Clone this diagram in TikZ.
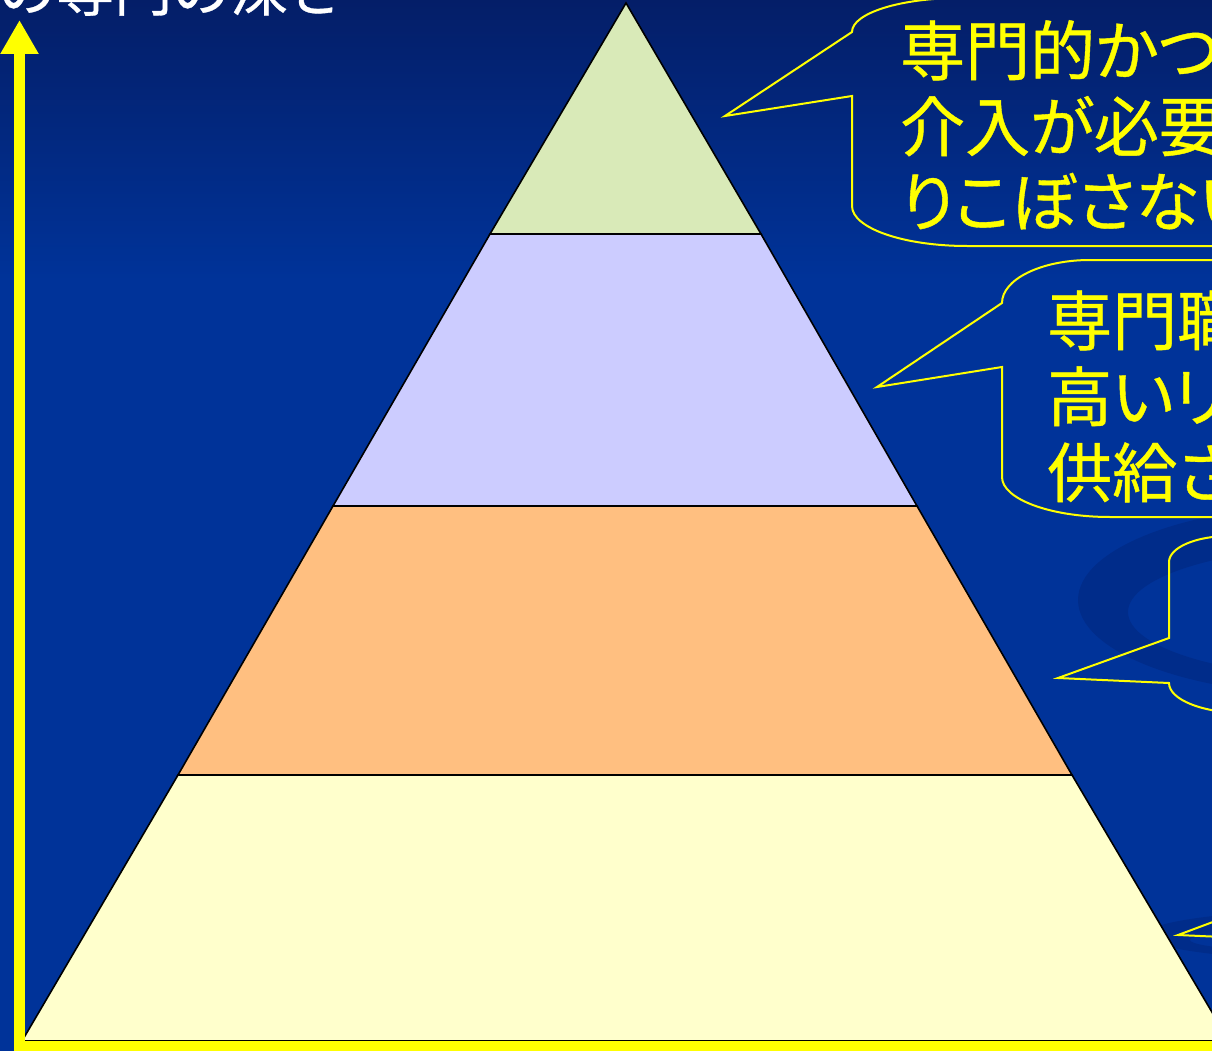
\documentclass[tikz,border=0pt]{standalone}
\usepackage{fontspec}
\newfontfamily\jp[RawFeature=+palt,FakeBold=0.6]{Noto Sans CJK JP}
\newfontfamily\jpt[FakeBold=0.6]{Noto Sans CJK JP}
\usetikzlibrary{arrows.meta}
\definecolor{bgblue}{RGB}{0,51,153}
\definecolor{bgtop}{RGB}{4,30,104}
\definecolor{bgdark}{RGB}{0,44,138}
\definecolor{lvA}{RGB}{217,234,184}
\definecolor{lvB}{RGB}{204,204,255}
\definecolor{lvC}{RGB}{255,191,128}
\definecolor{lvD}{RGB}{255,255,204}
\definecolor{callyel}{RGB}{255,255,0}
\begin{document}
\begin{tikzpicture}[x=1pt,y=-1pt,
  level/.style={draw=black,line width=1.6pt,line join=miter},
  callout/.style={draw=callyel,line width=2pt,line join=miter},
  ctext/.style={anchor=base west,inner sep=0pt,text=callyel,font=\jp\fontsize{65}{75}\selectfont},
  axisline/.style={draw=callyel,line width=11pt}]
\useasboundingbox (0,0) rectangle (1212,1051);
\clip (0,0) rectangle (1212,1051);
% background
\fill[bgblue] (0,0) rectangle (1212,1051);
\shade[top color=bgtop,bottom color=bgblue] (0,0) rectangle (1212,280);
% faint template swirls
\fill[bgdark,even odd rule] (1330,600) ellipse[x radius=252,y radius=95]
  (1352,612) ellipse[x radius=224,y radius=66];
\fill[bgdark,even odd rule] (1360,935) ellipse[x radius=215,y radius=26]
  (1380,940) ellipse[x radius=190,y radius=14];
% axis title (cut off at the top)
\node[anchor=base west,inner sep=0pt,text=white,font=\jpt\fontsize{58}{58}\selectfont] (title) at (-2,11) {の専門の深さ};
% pyramid levels
\coordinate (apex) at (626,3);
\coordinate (l1) at (490,234);  \coordinate (r1) at (761,234);
\coordinate (l2) at (333,506);  \coordinate (r2) at (917,506);
\coordinate (l3) at (178,775);  \coordinate (r3) at (1072,775);
\coordinate (l4) at (22,1041);  \coordinate (r4) at (1229,1041);
\draw[level,fill=lvD] (l3) -- (r3) -- (r4) -- (l4) -- cycle;
\draw[level,fill=lvC] (l2) -- (r2) -- (r3) -- (l3) -- cycle;
\draw[level,fill=lvB] (l1) -- (r1) -- (r2) -- (l2) -- cycle;
\draw[level,fill=lvA] (apex) -- (r1) -- (l1) -- cycle;
% yellow axes
\coordinate (axbot) at (19.5,1047);
\coordinate (axtop) at (19.5,20);
\coordinate (axleft) at (14,1046);
\coordinate (axright) at (1220,1046);
\draw[axisline] (axleft) -- (axright);
\draw[axisline,-{Triangle[length=34pt,width=36pt]}] (axbot) -- (axtop);
% callout 1
\coordinate (tip1) at (725,116);
\draw[callout] (1230,-2) -- (960,-2) arc[start angle=270,end angle=180,x radius=108,y radius=34]
  -- (tip1) -- (852,96) -- (852,206) arc[start angle=180,end angle=90,x radius=115,y radius=40] -- (1230,246);
\node[ctext] (t1a) at (900,75) {専門的かつ};
\node[ctext] (t1b) at (900,151) {介入が必要};
\node[ctext] (t1c) at (900,226) {りこぼさない};
% callout 2
\coordinate (tip2) at (877,387);
\draw[callout] (1230,260) -- (1090,260) arc[start angle=270,end angle=180,x radius=88,y radius=43]
  -- (tip2) -- (1002,367) -- (1002,477) arc[start angle=180,end angle=90,x radius=108,y radius=40] -- (1230,517);
\node[ctext] (t2a) at (1047,345) {専門職};
\node[ctext] (t2b) at (1047,421) {高いリ};
\node[ctext] (t2c) at (1047,497) {供給さ};
% callout 3
\coordinate (tip3) at (1058,678);
\draw[callout] (1230,536) -- (1229,536) arc[start angle=270,end angle=180,x radius=60,y radius=26]
  -- (1169,638) -- (tip3) -- (1169,683) arc[start angle=180,end angle=90,x radius=75,y radius=30] -- (1250,713);
% callout 4
\coordinate (tip4) at (1178,935);
\draw[callout] (1245,910) -- (tip4) -- (1245,938);
\end{tikzpicture}
\end{document}
